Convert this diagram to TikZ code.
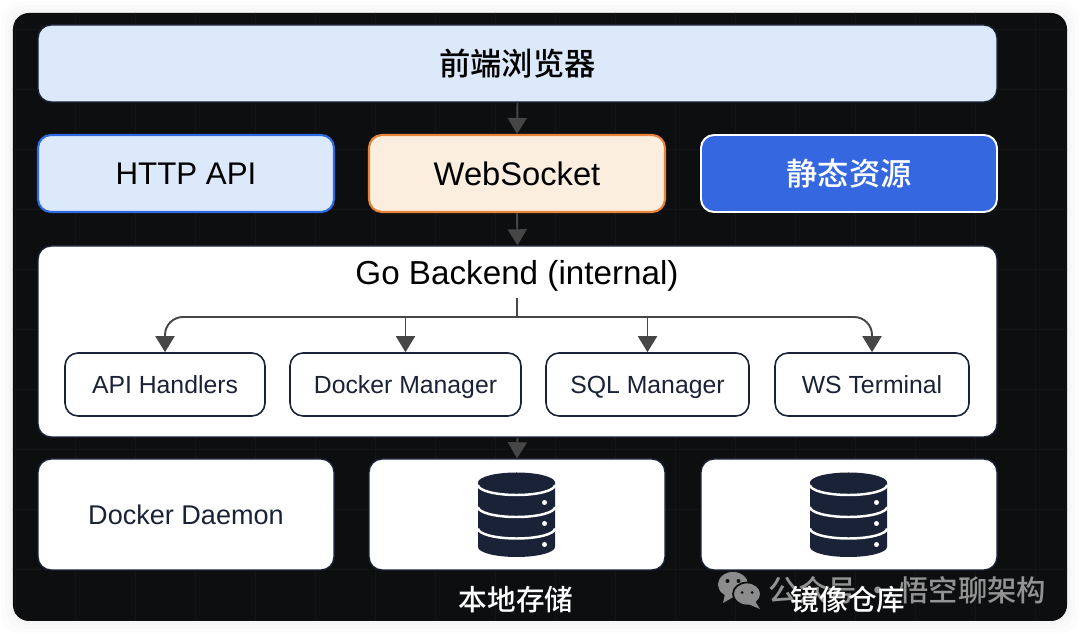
\documentclass[tikz,border=0pt]{standalone}
\usepackage{fontspec}
\setmainfont{Liberation Sans}
\newfontfamily\cjk{Noto Sans CJK SC Medium}
\usetikzlibrary{arrows.meta}
\definecolor{panelc}{HTML}{0D0E0F}
\definecolor{gridc}{HTML}{141517}
\definecolor{navyc}{HTML}{1A2238}
\definecolor{arrowc}{HTML}{454645}
\definecolor{paleblue}{HTML}{DCE9FB}
\definecolor{paleorange}{HTML}{FBEEDF}
\definecolor{midblue}{HTML}{3568E0}
\definecolor{edgeblue}{HTML}{2F6BE0}
\definecolor{edgeorange}{HTML}{E8833A}
\tikzset{
    card/.style={draw=navyc, line width=0.8pt, rounded corners=0.26cm, inner sep=0pt, minimum height=1.54cm},
    innerbox/.style={draw=navyc, fill=white, line width=0.9pt, rounded corners=0.26cm, text=navyc, text depth=0pt, font=\fontsize{14.1}{16}\selectfont, inner sep=0pt, minimum height=1.26cm},
    lowbox/.style={card, fill=white, minimum width=5.92cm, minimum height=2.22cm},
    flow/.style={draw=arrowc, line width=1.1pt, -{Triangle[length=0.32cm,width=0.38cm]}},
    under/.style={text=white, font=\cjk\fontsize{16.3}{18}\selectfont, inner sep=0pt}
}
\newcommand{\dbicon}[1]{
    \begin{scope}[shift={(#1)}]
        \fill[navyc] (-.77,.64)--(-.77,-.65) arc[start angle=180,end angle=360,x radius=.77,y radius=.2]
            --(.77,.64) arc[start angle=0,end angle=180,x radius=.77,y radius=.2]--cycle;
        \foreach \y in {.59,.15,-.28}
            \draw[white,line width=1.4pt] (-.77,\y) arc[start angle=180,end angle=360,x radius=.77,y radius=.2];
        \foreach \y in {.24,-.18,-.6}
            \fill[white] (.56,\y) circle (.05);
    \end{scope}
}
\begin{document}
\begin{tikzpicture}[line join=round, >=stealth]
    \useasboundingbox (0,0) rectangle (21.6,12.68);
    \fill[white] (0,0) rectangle (21.6,12.68);
    % soft edge and dark panel
    \foreach \d in {.24,.16,.08}
        \fill[black,opacity=.012,rounded corners=.4cm] (.26-\d,.26-\d) rectangle (21.34+\d,12.42+\d);
    \fill[panelc,rounded corners=.32cm] (.26,.26) rectangle (21.34,12.42);
    \begin{scope}
        \clip[rounded corners=.32cm] (.26,.26) rectangle (21.34,12.42);
        \draw[gridc,line width=.4pt,shift={(.3,.1)}] (-.3,-.1) grid[step=1.2] (21.3,12.6);
    \end{scope}
    % upper rows
    \node[card,fill=paleblue,minimum width=19.18cm,font=\cjk\fontsize{17.8}{20}\selectfont] (browser) at (10.35,11.41) {前端浏览器};
    \node[card,draw=edgeblue,line width=1.2pt,fill=paleblue,minimum width=5.92cm,font=\fontsize{17.8}{20}\selectfont] (httpapi) at (3.72,9.21) {HTTP API};
    \node[card,draw=edgeorange,line width=1.2pt,fill=paleorange,minimum width=5.92cm,font=\fontsize{18.6}{20}\selectfont] (websocket) at (10.34,9.21) {WebSocket};
    \node[card,draw=white,line width=1.1pt,fill=midblue,text=white,minimum width=5.92cm,font=\cjk\fontsize{17.8}{20}\selectfont] (statics) at (16.98,9.21) {静态资源};
    % backend
    \node[card,fill=white,minimum width=19.18cm,minimum height=3.82cm] (backend) at (10.35,5.85) {};
    \node[inner sep=0pt,font=\fontsize{18.9}{20}\selectfont] (gotitle) at (10.34,7.16) {Go Backend (internal)};
    \node[innerbox,minimum width=4cm] (handlers) at (3.30,4.99) {API Handlers};
    \node[innerbox,minimum width=4.62cm] (dockermgr) at (8.11,4.99) {Docker Manager};
    \node[innerbox,minimum width=4.06cm] (sqlmgr) at (12.95,4.99) {SQL Manager};
    \node[innerbox,minimum width=3.88cm] (wsterm) at (17.44,4.99) {WS Terminal};
    % lower row
    \node[lowbox,text=navyc,font=\fontsize{15.4}{18}\selectfont] (daemon) at (3.72,2.39) {Docker Daemon};
    \node[lowbox] (storage) at (10.34,2.39) {};
    \node[lowbox] (registry) at (16.98,2.39) {};
    \dbicon{10.33,2.39}
    \dbicon{16.97,2.39}
    % watermark
    \fill[gray!90,draw=panelc] (14.66,.99) ellipse (.31 and .26);
    \fill[gray!90] (14.5,.8)--(14.46,.62)--(14.7,.76)--cycle;
    \fill[gray!90,draw=panelc,line width=1pt] (14.94,.80) ellipse (.28 and .23);
    \fill[gray!90] (15.1,.66)--(15.2,.5)--(14.96,.6)--cycle;
    \foreach \p in {14.55,14.77} \fill[panelc] (\p,1.06) circle (.04);
    \foreach \p in {14.84,15.04} \fill[panelc] (\p,.83) circle (.03);
    \node[inner sep=0pt,text=gray!85,font=\cjk\fontsize{16.7}{18}\selectfont] (mark) at (18.15,.88) {公众号\ ·\ 悟空聊架构};
    \node[under] (storagename) at (10.32,.68) {本地存储};
    \node[under] (registryname) at (16.96,.68) {镜像仓库};
    % connectors
    \draw[flow] (browser.south) -- (websocket.north);
    \draw[flow] (websocket.south) -- (backend.north);
    \draw[flow] (backend.south) -- (storage.north);
    \coordinate (treetop) at (10.34,6.72);
    \coordinate (bus) at (10.34,6.34);
    \draw[draw=arrowc,line width=1.1pt] (treetop) -- (bus);
    \draw[flow,rounded corners=.36cm] (bus) -| (handlers.north);
    \draw[flow,rounded corners=.36cm] (bus) -| (wsterm.north);
    \draw[flow] (dockermgr.north |- bus) -- (dockermgr.north);
    \draw[flow] (sqlmgr.north |- bus) -- (sqlmgr.north);
\end{tikzpicture}
\end{document}
